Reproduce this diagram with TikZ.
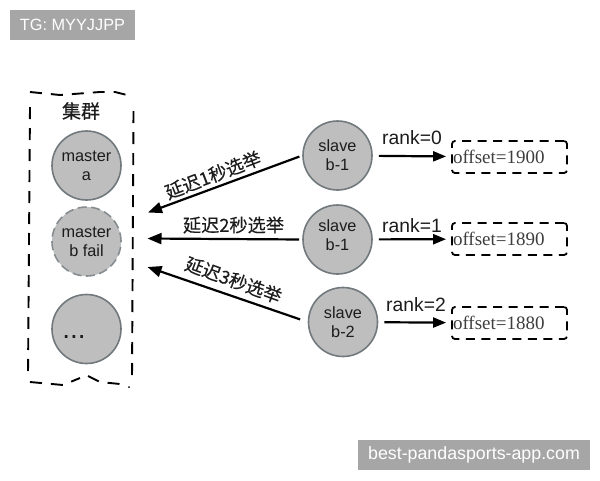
\documentclass[tikz,border=0pt]{standalone}
\usepackage{fontspec}
\setmainfont{Liberation Sans}
\newfontfamily\serifface{Liberation Serif}
\newfontfamily\cjkface[FakeBold=0.25]{Noto Sans CJK SC}
\usetikzlibrary{arrows.meta}
\definecolor{discfill}{HTML}{BEBEBE}
\definecolor{discline}{HTML}{71797D}
\definecolor{markfill}{HTML}{A6A6A6}
\definecolor{inkdark}{HTML}{1C1C1C}
\tikzset{
  disc/.style={circle,draw=discline,fill=discfill,line width=1.6pt,minimum size=69pt,inner sep=0pt,align=center,text=inkdark,font=\fontsize{16.3}{19}\selectfont},
  faildisc/.style={disc,draw=discline!85,dash pattern=on 9pt off 4.5pt},
  frameline/.style={draw=black,line width=1.9pt,dash pattern=on 12pt off 9pt},
  offsetbox/.style={draw=black,line width=1.8pt,dash pattern=on 9pt off 6.5pt,rounded corners=3pt,minimum width=115pt,minimum height=32pt,text width=113pt,align=left,inner sep=1pt,text=inkdark!85,font=\serifface\fontsize{19}{20}\selectfont},
  bigarrow/.style={draw=black,line width=2.2pt,-{Triangle[length=14pt,width=11pt]},shorten <=3pt},
  rankarrow/.style={draw=black,line width=2.2pt,-{Triangle[length=13pt,width=10pt]},shorten <=6pt,shorten >=5pt},
  cnlabel/.style={font=\cjkface\fontsize{18.2}{20}\selectfont,text=inkdark,inner sep=0pt},
  ranklabel/.style={font=\fontsize{19.3}{21}\selectfont,text=inkdark,inner sep=0pt},
  markbox/.style={fill=markfill,text=white,inner sep=0pt,anchor=center}
}
\begin{document}
\begin{tikzpicture}[x=1pt,y=-1pt]
\useasboundingbox[fill=white] (0,0) rectangle (600,480);
% watermarks
\node[markbox,minimum width=125pt,minimum height=30pt,font=\fontsize{16.3}{18}\selectfont] (tg) at (72.5,25) {TG: MYYJJPP};
\node[markbox,minimum width=232pt,minimum height=30pt,font=\fontsize{17.8}{20}\selectfont] (site) at (474,455) {best-pandasports-app.com};
% cluster frame
\draw[frameline] (30,92) -- (60,95) -- (100,92) -- (115,92) -- (127,95);
\draw[frameline] (30,107) -- (28,375);
\draw[frameline] (133.5,111) -- (132,380);
\draw[frameline] (30,382) -- (63,385) -- (80,378);
\draw[frameline] (88,376) -- (100,382) -- (120,384);
\fill (129,387) circle (1pt);
\node[font=\cjkface\fontsize{19}{20}\selectfont,text=inkdark,inner sep=0pt] (cluster) at (81,111) {集群};
% masters
\node[disc] (ma) at (86.5,165.5) {master\\a};
\node[faildisc] (mb) at (86.5,241.5) {};
\node[font=\fontsize{16.3}{19}\selectfont,align=center,text=inkdark,inner sep=0pt] (mbt) at (86.5,242) {master\\b fail};
\node[disc] (mc) at (86.5,329) {};
\node[font=\fontsize{28}{30}\selectfont,text=inkdark,inner sep=0pt,anchor=base] (mct) at (74,338.5) {...};
% slaves
\node[disc] (s0) at (337.5,155.5) {slave\\b-1};
\node[disc] (s1) at (337.5,239.5) {};
\node[font=\fontsize{16.3}{19}\selectfont,align=center,text=inkdark,inner sep=0pt] (s1t) at (337.5,235) {slave\\b-1};
\node[disc] (s2) at (343,322) {slave\\b-2};
% offsets
\node[offsetbox] (o0) at (509.5,157) {\raisebox{-2.5pt}{offset=1900}};
\node[offsetbox] (o1) at (509.5,239) {\raisebox{-2.5pt}{offset=1890}};
\node[offsetbox] (o2) at (509.5,323) {\raisebox{-2.5pt}{offset=1880}};
% free ends
\coordinate (t0) at (148,212.5);
\coordinate (t1) at (147.5,238.5);
\coordinate (t2) at (147.5,267);
% connectors
\draw[bigarrow] (s0.west) -- (t0);
\draw[bigarrow] (s1.west) -- (t1);
\draw[bigarrow,shorten <=8pt] (s2.west) -- (t2);
\draw[rankarrow] (s0) -- (o0);
\draw[rankarrow] (s1) -- (o1);
\draw[rankarrow] (s2) -- (o2);
% labels
\node[cnlabel,rotate=21] (l0) at (213,175) {延迟1秒选举};
\node[cnlabel] (l1) at (233.5,225) {延迟2秒选举};
\node[cnlabel,rotate=-20] (l2) at (233.5,280) {延迟3秒选举};
\node[ranklabel] (r0) at (412,138) {rank=0};
\node[ranklabel] (r1) at (412,226) {rank=1};
\node[ranklabel] (r2) at (416,305) {rank=2};
\end{tikzpicture}
\end{document}
